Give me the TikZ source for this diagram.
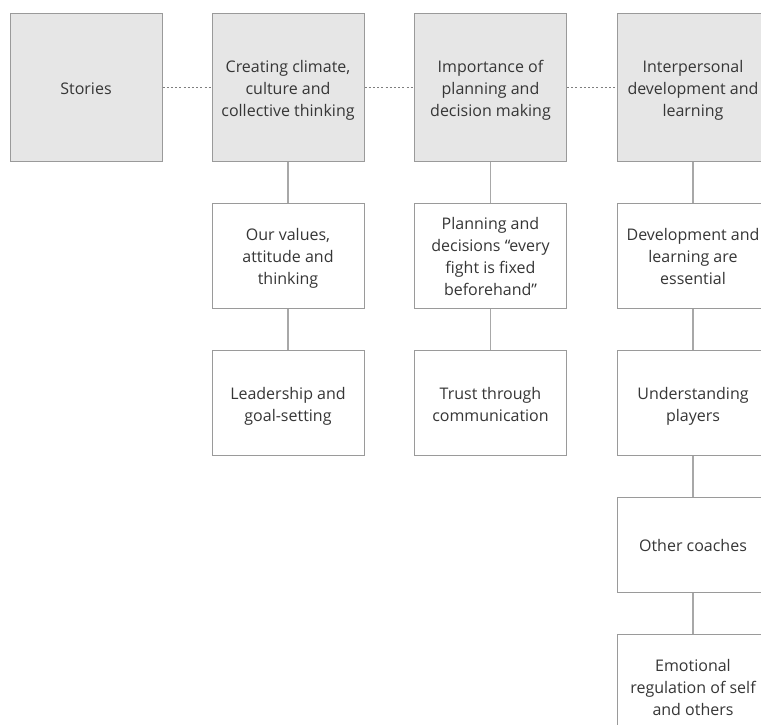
\documentclass[tikz,border=0pt]{standalone}
\usepackage{fontspec}
\setmainfont{Open Sans}
\definecolor{boxline}{HTML}{9A9A9A}
\definecolor{headfill}{HTML}{E6E6E6}
\definecolor{linkline}{HTML}{A8A8A8}
\definecolor{dotline}{HTML}{7E7E7E}
\definecolor{txt}{HTML}{363636}
% centred multi-line label; extra headroom drops it slightly for optical centring
\newcommand\cardtext[1]{\raisebox{0pt}[\dimexpr\height+6pt\relax][\depth]{\begin{tabular}{@{}c@{}}#1\end{tabular}}}
\begin{document}
\begin{tikzpicture}[x=1pt,y=-1pt,
  card/.style={draw=boxline,line width=1pt,fill=white,minimum width=152pt,
    align=center,text=txt,font=\fontsize{16}{22}\selectfont,inner sep=0pt},
  headcard/.style={card,fill=headfill,minimum height=147pt},
  subcard/.style={card,minimum height=105pt},
  link/.style={draw=linkline,line width=1.2pt},
  dotlink/.style={draw=dotline,line width=1.8pt,dash pattern=on 2pt off 2.2pt}]
\useasboundingbox (0,0) rectangle (761,725);
\clip (0,0) rectangle (761,725);
\fill[white] (0,0) rectangle (761,725);

% top row of themes
\node[headcard] (stories) at (86,87.5) {\cardtext{Stories}};
\node[headcard] (climate) at (288,87.5) {\cardtext{Creating climate,\\culture and\\collective thinking}};
\node[headcard] (planning) at (490.5,87.5) {\cardtext{Importance of\\planning and\\decision making}};
\node[headcard] (interp) at (693,87.5) {\cardtext{Interpersonal\\development and\\learning}};

% sub-themes
\node[subcard] (values) at (288,255.5) {\cardtext{Our values,\\attitude and\\thinking}};
\node[subcard] (leader) at (288,403) {\cardtext{Leadership and\\goal-setting}};
\node[subcard] (decide) at (490.5,255.5) {\cardtext{Planning and\\decisions “every\\fight is fixed\\beforehand”}};
\node[subcard] (trust) at (490.5,403) {\cardtext{Trust through\\communication}};
\node[subcard] (devlearn) at (693,255.5) {\cardtext{Development and\\learning are\\essential}};
\node[subcard] (players) at (693,403) {\cardtext{Understanding\\players}};
\node[card,minimum height=95pt] (coaches) at (693,544.5) {\cardtext{Other coaches}};
\node[subcard] (emotion) at (693,686.5) {\cardtext{Emotional\\regulation of self\\and others}};

% dotted links between themes
\draw[dotlink] (stories.east) -- (climate.west);
\draw[dotlink] (climate.east) -- (planning.west);
\draw[dotlink] (planning.east) -- (interp.west);

% vertical links
\draw[link] (climate.south) -- (values.north);
\draw[link] (values.south) -- (leader.north);
\draw[link] (planning.south) -- (decide.north);
\draw[link] (decide.south) -- (trust.north);
\draw[link] (interp.south) -- (devlearn.north);
\draw[link] (devlearn.south) -- (players.north);
\draw[link] (players.south) -- (coaches.north);
\draw[link] (coaches.south) -- (emotion.north);
\end{tikzpicture}
\end{document}
